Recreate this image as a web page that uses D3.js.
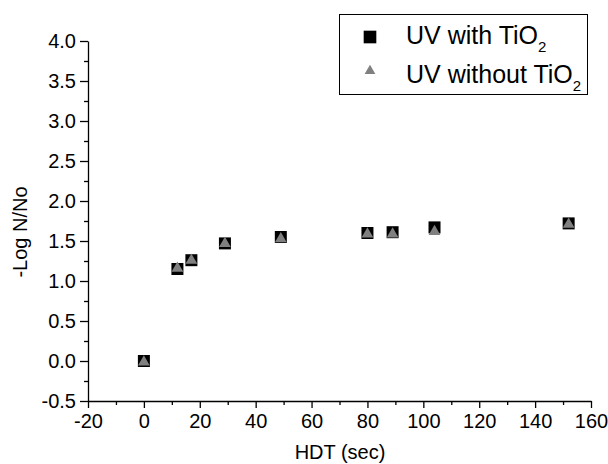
<!DOCTYPE html>
<html>
<head>
  <meta charset="UTF-8">
  <style>
    body { margin: 0; padding: 0; background: #fff; }
    svg { display: block; font-family: Arial, "Liberation Sans", sans-serif; }
    .axis path, .axis line { stroke: #000; stroke-width: 1.3; }
    .axis text { font-family: Arial, "Liberation Sans", sans-serif; font-size: 20px; fill: #000; }
  </style>
</head>
<body>
  <svg width="608" height="464"></svg>
  <script src="https://d3js.org/d3.v7.min.js"></script>
  <script>
    // HDT in seconds and -log(N/No) for both series
    const hdt = [0, 12, 17, 29, 49, 80, 89, 104, 152];
    const withTiO2 = [0, 1.15, 1.26, 1.47, 1.55, 1.60, 1.61, 1.67, 1.72];
    const withoutTiO2 = [0, 1.17, 1.27, 1.48, 1.54, 1.60, 1.60, 1.63, 1.72];

    const xTicks = [-20, 0, 20, 40, 60, 80, 100, 120, 140, 160];
    const yTicks = [-0.5, 0, 0.5, 1.0, 1.5, 2.0, 2.5, 3.0, 3.5, 4.0];
    const seriesNames = ["UV with TiO", "UV without TiO"];

    const svg = d3.select("svg");

    const x = d3.scaleLinear().domain([-20, 160]).range([88, 591]);
    const y = d3.scaleLinear().domain([-0.5, 4.0]).range([401, 41]);

    // plain hyphen for negatives, like the original
    const fmtX = d => d3.format("d")(d).replace("\u2212", "-");
    const fmtY = d => d3.format(".1f")(d).replace("\u2212", "-");

    // minor ticks first, then the main axes on top
    svg.append("g")
        .attr("class", "axis")
        .attr("transform", "translate(0,401)")
        .call(d3.axisBottom(x).tickValues(xTicks.slice(0, -1).map(d => d + 10)).tickSize(4).tickFormat(""))
        .call(g => g.select(".domain").remove());

    svg.append("g")
        .attr("class", "axis")
        .attr("transform", "translate(88,0)")
        .call(d3.axisLeft(y).tickValues(yTicks.slice(0, -1).map(d => d + 0.25)).tickSize(4).tickFormat(""))
        .call(g => g.select(".domain").remove());

    svg.append("g")
        .attr("class", "axis")
        .attr("transform", "translate(0,401)")
        .call(d3.axisBottom(x).tickValues(xTicks).tickSize(7).tickSizeOuter(0).tickPadding(6).tickFormat(fmtX));

    svg.append("g")
        .attr("class", "axis")
        .attr("transform", "translate(88,0)")
        .call(d3.axisLeft(y).tickValues(yTicks).tickSize(8).tickSizeOuter(0).tickPadding(4).tickFormat(fmtY));

    // axis titles
    svg.append("text")
        .attr("x", 340)
        .attr("y", 459)
        .attr("text-anchor", "middle")
        .style("font-size", "20px")
        .text("HDT (sec)");

    svg.append("text")
        .attr("transform", "translate(27,232) rotate(-90)")
        .attr("text-anchor", "middle")
        .style("font-size", "20px")
        .text("-Log N/No");

    // data points
    const square = d3.symbol().type(d3.symbolSquare).size(144);
    const triangle = d3.symbol().type(d3.symbolTriangle).size(60);

    svg.append("g").selectAll("path")
        .data(hdt.map((d, i) => [d, withTiO2[i]]))
        .join("path")
        .attr("transform", d => `translate(${x(d[0])},${y(d[1])})`)
        .attr("d", square)
        .attr("fill", "#000");

    svg.append("g").selectAll("path")
        .data(hdt.map((d, i) => [d, withoutTiO2[i]]))
        .join("path")
        .attr("transform", d => `translate(${x(d[0])},${y(d[1]) + 1})`)
        .attr("d", triangle)
        .attr("fill", "#808080");

    // legend
    const legend = svg.append("g");
    legend.append("rect")
        .attr("x", 339.5).attr("y", 14.5)
        .attr("width", 248).attr("height", 80)
        .attr("fill", "#fff").attr("stroke", "#000").attr("stroke-width", 1);

    legend.append("path")
        .attr("transform", "translate(370,37)")
        .attr("d", d3.symbol().type(d3.symbolSquare).size(160))
        .attr("fill", "#000");
    legend.append("path")
        .attr("transform", "translate(370,71)")
        .attr("d", d3.symbol().type(d3.symbolTriangle).size(50))
        .attr("fill", "#808080");

    seriesNames.forEach((name, i) => {
      const t = legend.append("text")
          .attr("x", 406)
          .attr("y", [44, 83][i])
          .style("font-size", "25px");
      t.append("tspan").text(name);
      t.append("tspan").attr("dy", 8).style("font-size", "15px").text("2");
    });
  </script>
</body>
</html>
